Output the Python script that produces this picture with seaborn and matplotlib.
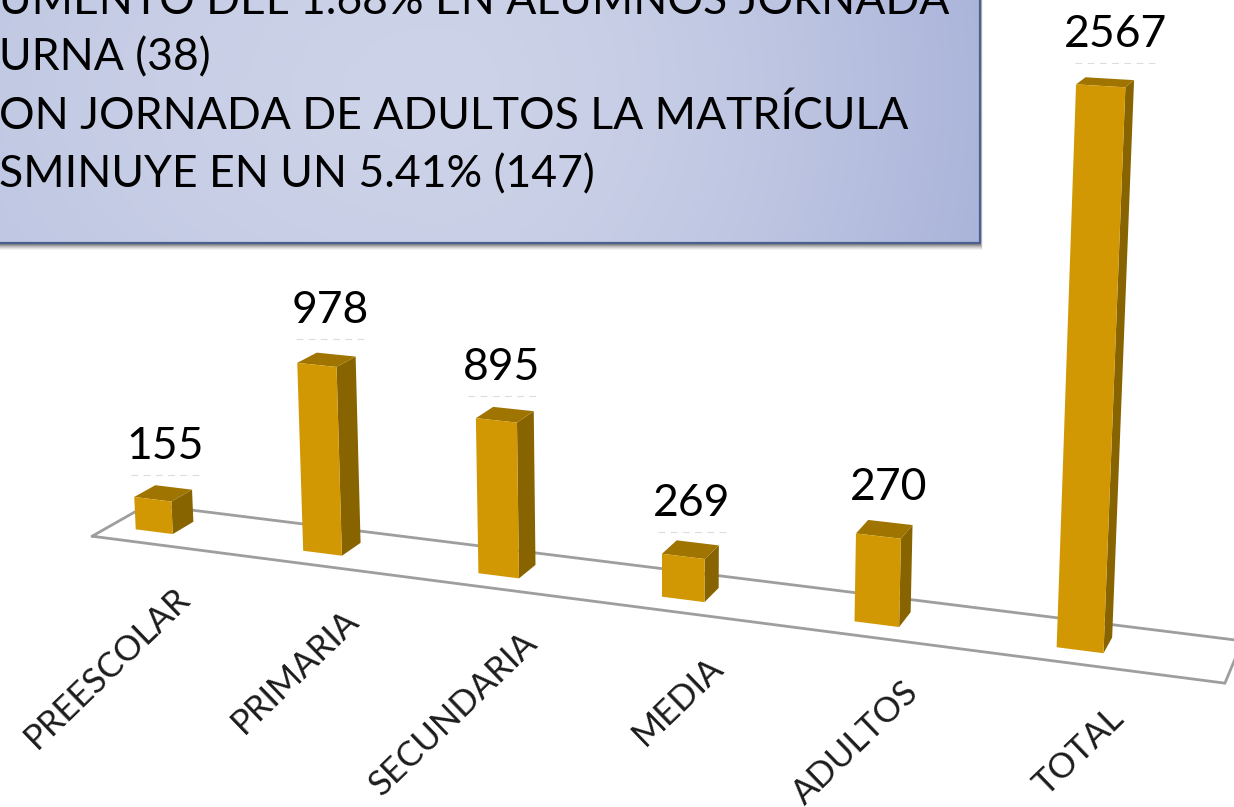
import numpy as np
import seaborn as sns
import matplotlib
matplotlib.use("Agg")
import matplotlib.pyplot as plt
from matplotlib.patches import Rectangle
from matplotlib.transforms import Transform

categories = ["PREESCOLAR", "PRIMARIA", "SECUNDARIA", "MEDIA", "ADULTOS", "TOTAL"]
# the printed numbers were typed over the bars in the slide, they are not what the bars measure
printed_values = [155, 978, 895, 269, 270, 2567]
bar_heights = [172, 965, 782, 214, 427, 2567]

box_lines = ["UMENTO DEL 1.68% EN ALUMNOS JORNADA",
             "URNA (38)",
             "ON JORNADA DE ADULTOS LA MATRÍCULA",
             "SMINUYE EN UN 5.41% (147)"]

FRONT = "#d29804"
SIDE = "#886400"
TOP = "#a07400"
FLOOR = "#9e9e9e"
FONT = "Lato"

# 3d look of the slide chart: (category, value, depth) -> image pixels
PROJ = np.array([[161.12, -0.010904, 23.27, 154.2],
                 [9.23, -0.1968, -4.946, 531.7],
                 [-0.02226, -1.640e-5, 0.01405, 1.0]])


def project(u, v, z=0.0):
    u, v, z = np.asarray(u, float), np.asarray(v, float), np.asarray(z, float)
    w = PROJ[2, 0] * u + PROJ[2, 1] * v + PROJ[2, 2] * z + PROJ[2, 3]
    x = (PROJ[0, 0] * u + PROJ[0, 1] * v + PROJ[0, 2] * z + PROJ[0, 3]) / w
    y = (PROJ[1, 0] * u + PROJ[1, 1] * v + PROJ[1, 2] * z + PROJ[1, 3]) / w
    return x, y


class ChartProjection(Transform):
    input_dims = 2
    output_dims = 2

    def transform_non_affine(self, values):
        values = np.asarray(values, float)
        x, y = project(values[:, 0], values[:, 1])
        return np.column_stack([x, y])


sns.set_theme(style="white")
plt.rcParams["font.family"] = [FONT, "DejaVu Sans"]

fig = plt.figure(figsize=(12.34, 8.07), dpi=100, facecolor="white")
ax = fig.add_axes([0, 0, 1, 1])

sns.barplot(x=categories, y=bar_heights, color=FRONT, saturation=1, width=0.225, ax=ax)
bars = list(ax.containers[0])

ax.set_xlim(0, 1234)
ax.set_ylim(807, 0)
ax.set_axis_off()

# floor of the 3d chart
floor_u = [-0.27, 5.71, 5.71, -0.27, -0.27]
floor_z = [-0.82, -0.82, 1.79, 1.79, -0.82]
fx, fy = project(floor_u, np.zeros(5), floor_z)
ax.plot(fx, fy, color=FLOOR, lw=2, zorder=1, solid_joinstyle="miter")

# seaborn bars become the front faces, side and top come from the same rectangles
to_image = ChartProjection() + ax.transData
for bar in bars:
    bar.set_transform(to_image)
    bar.set_zorder(4)
    bar.set_linewidth(0)
    u0 = bar.get_x()
    u1 = u0 + bar.get_width()
    h = bar.get_height()
    sx, sy = project([u1, u1, u1, u1], [0, h, h, 0], [0, 0, 1, 1])
    ax.fill(sx, sy, color=SIDE, lw=0, zorder=3)
    tx, ty = project([u0, u1, u1, u0], [h, h, h, h], [0, 0, 1, 1])
    ax.fill(tx, ty, color=TOP, lw=0, zorder=3)

# value labels, placed by hand in the slide
label_pos = [(165, 459), (330, 323), (502, 380), (692, 516), (889, 500), (1116, 47)]
for val, (lx, ly) in zip(printed_values, label_pos):
    ax.text(lx, ly, str(val), fontsize=32, color="black", ha="center", va="baseline", zorder=6)
    # what is left of the covered original labels
    if val != 270:
        half = 13 + 7 * len(str(val))
        ax.plot([lx - half, lx + half], [ly + 16, ly + 16], color="#dcdcdc", lw=0.8,
                dashes=(6, 5), zorder=2)

# category labels
for i, name in enumerate(categories):
    ax_x, ax_y = project(i + 0.2, 0)
    ax.text(ax_x - 14, ax_y + 46, name, rotation=44, rotation_mode="anchor", ha="right", va="top",
            fontsize=25, color="#1c1c1c", zorder=6)

# text box with its shadow
box_right = 980
box_bottom = 243
for off, alpha in [(7, 0.06), (6, 0.08), (5, 0.10), (4, 0.14), (3, 0.18), (2, 0.22)]:
    ax.add_patch(Rectangle((-10, -10), box_right + 10 + off * 0.4, box_bottom + 10 + off,
                           facecolor="#303030", edgecolor="none", alpha=alpha, zorder=7))

gx, gy = np.meshgrid(np.linspace(0, box_right, 245), np.linspace(0, box_bottom, 61))
x_scale = np.where(gx < 440, 900, 560)
dist = np.clip(np.hypot((gx - 440) / x_scale, (gy - 90) / 600), 0, 1)
light = np.array([205, 211, 232]) / 255
dark = np.array([170, 180, 218]) / 255
shade = light[None, None, :] + (dark - light)[None, None, :] * dist[..., None] ** 1.6
ax.imshow(shade, extent=(0, box_right, box_bottom, 0), aspect="auto", zorder=8,
          interpolation="bilinear")
ax.plot([-5, box_right, box_right], [box_bottom, box_bottom, -5], color="#4a6190", lw=1.6, zorder=9)
ax.set_xlim(0, 1234)
ax.set_ylim(807, 0)

line_y = [14, 70, 129, 187]
for txt, ly in zip(box_lines, line_y):
    ax.text(-1, ly, txt, fontsize=32, color="black", ha="left", va="baseline", zorder=10)

fig.savefig("out.png", dpi=100)
